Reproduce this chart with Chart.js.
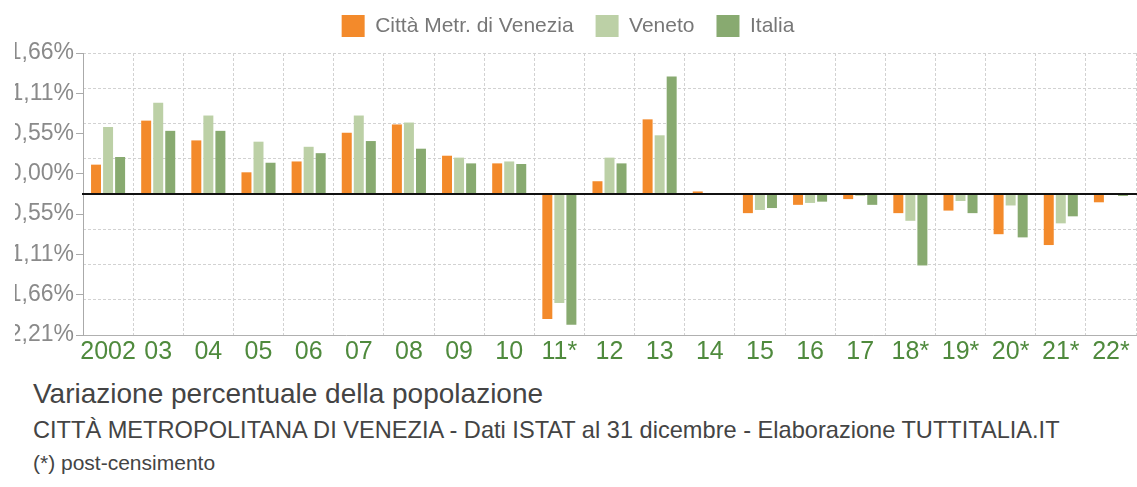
<!DOCTYPE html>
<html>
<head>
<meta charset="utf-8">
<script src="https://cdn.jsdelivr.net/npm/chart.js@4"></script>
<style>
  html, body { margin: 0; padding: 0; background: #fff; width: 1137px; height: 487px; overflow: hidden; }
  #wrap { position: absolute; left: 0; top: 0; width: 1137px; height: 372px; }
  #c { clip-path: inset(0 0 0 15px); }
  .txt { position: absolute; left: 33px; font-family: "Liberation Sans", Arial, Helvetica, sans-serif; line-height: 1; white-space: nowrap; }
  #t1 { top: 380px; font-size: 28px; color: #444; }
  #t2 { top: 419px; font-size: 23.6px; color: #444; }
  #t3 { top: 452px; font-size: 21px; color: #444; }
</style>
</head>
<body>
<div id="wrap"><canvas id="c"></canvas></div>
<div class="txt" id="t1">Variazione percentuale della popolazione</div>
<div class="txt" id="t2">CITTÀ METROPOLITANA DI VENEZIA - Dati ISTAT al 31 dicembre - Elaborazione TUTTITALIA.IT</div>
<div class="txt" id="t3">(*) post-censimento</div>
<script>
const years = ['2002','03','04','05','06','07','08','09','10','11*','12','13','14','15','16','17','18*','19*','20*','21*','22*'];
const venezia = [0.46, 1.15, 0.84, 0.34, 0.51, 0.96, 1.09, 0.60, 0.48, -1.96, 0.20, 1.17, 0.04, -0.30, -0.17, -0.08, -0.30, -0.26, -0.63, -0.80, -0.13];
const veneto  = [1.05, 1.43, 1.23, 0.82, 0.74, 1.23, 1.12, 0.57, 0.51, -1.71, 0.57, 0.92, 0.01, -0.25, -0.14, -0.03, -0.42, -0.11, -0.18, -0.46, 0.01];
const italia  = [0.58, 0.99, 0.99, 0.49, 0.64, 0.83, 0.71, 0.48, 0.47, -2.05, 0.48, 1.84, -0.01, -0.22, -0.12, -0.17, -1.12, -0.30, -0.68, -0.35, -0.03];
const seriesNames = ['Città Metr. di Venezia', 'Veneto', 'Italia'];
const yTickLabels = ['1,66%', '1,11%', '0,55%', '0,00%', '-0,55%', '-1,11%', '-1,66%', '-2,21%'];
const Y_MAX = 2.21;

const FONT = '"Liberation Sans", Arial, Helvetica, sans-serif';
const GRID = '#d2d2d2';

const legendHeightPlugin = {
  id: 'legendHeight',
  beforeInit(chart) {
    const lg = chart.legend;
    if (!lg) return;
    const fit = lg.fit;
    lg.fit = function () { fit.call(this); this.height = 60; };
  }
};
const zeroLinePlugin = {
  id: 'zeroLine',
  afterDatasetsDraw(chart) {
    const { ctx, chartArea, scales } = chart;
    const py = Math.round(scales.y.getPixelForValue(0));
    ctx.save();
    ctx.strokeStyle = '#111';
    ctx.lineWidth = 2;
    ctx.beginPath();
    ctx.moveTo(chartArea.left - 1, py);
    ctx.lineTo(chart.width, py);
    ctx.stroke();
    ctx.restore();
  }
};

new Chart(document.getElementById('c'), {
  type: 'bar',
  data: {
    labels: years,
    datasets: [
      { label: seriesNames[0], data: venezia, backgroundColor: '#f38a2b' },
      { label: seriesNames[1], data: veneto, backgroundColor: '#bcd0a6' },
      { label: seriesNames[2], data: italia, backgroundColor: '#88aa70' }
    ]
  },
  options: {
    responsive: true,
    maintainAspectRatio: false,
    animation: false,
    layout: { padding: { top: -7, right: 1, left: 0, bottom: 0 } },
    datasets: { bar: { categoryPercentage: 0.72, barPercentage: 0.83 } },
    plugins: {
      tooltip: { enabled: false },
      legend: {
        position: 'top',
        labels: {
          boxWidth: 23, boxHeight: 22, padding: 22,
          color: '#777',
          font: { family: FONT, size: 21 }
        }
      }
    },
    scales: {
      x: {
        grid: { color: GRID, offset: true, drawTicks: false },
        border: { display: true, color: '#b0b0b0', dash: [3, 2] },
        ticks: { color: '#4f8a3d', font: { family: FONT, size: 25 }, padding: 2, maxRotation: 0, autoSkip: false },
        afterFit(s) { s.height = 37; }
      },
      y: {
        min: -Y_MAX, max: Y_MAX,
        ticks: { display: false, count: 9 },
        grid: { color: GRID, drawTicks: false },
        border: { display: false, dash: [3, 2] },
        afterFit(s) { s.width = 0; }
      },
      y2: {
        type: 'linear',
        position: 'left',
        min: 0, max: 7,
        ticks: {
          stepSize: 1,
          color: '#8a8a8a',
          font: { family: FONT, size: 23 },
          padding: 2,
          callback: (v) => yTickLabels[7 - v]
        },
        grid: { drawOnChartArea: false, drawTicks: true, tickLength: 7, color: '#aaa' },
        border: { display: true, color: '#aaa' },
        afterFit(s) { s.width = 83; }
      }
    }
  },
  plugins: [legendHeightPlugin, zeroLinePlugin]
});
</script>
</body>
</html>
